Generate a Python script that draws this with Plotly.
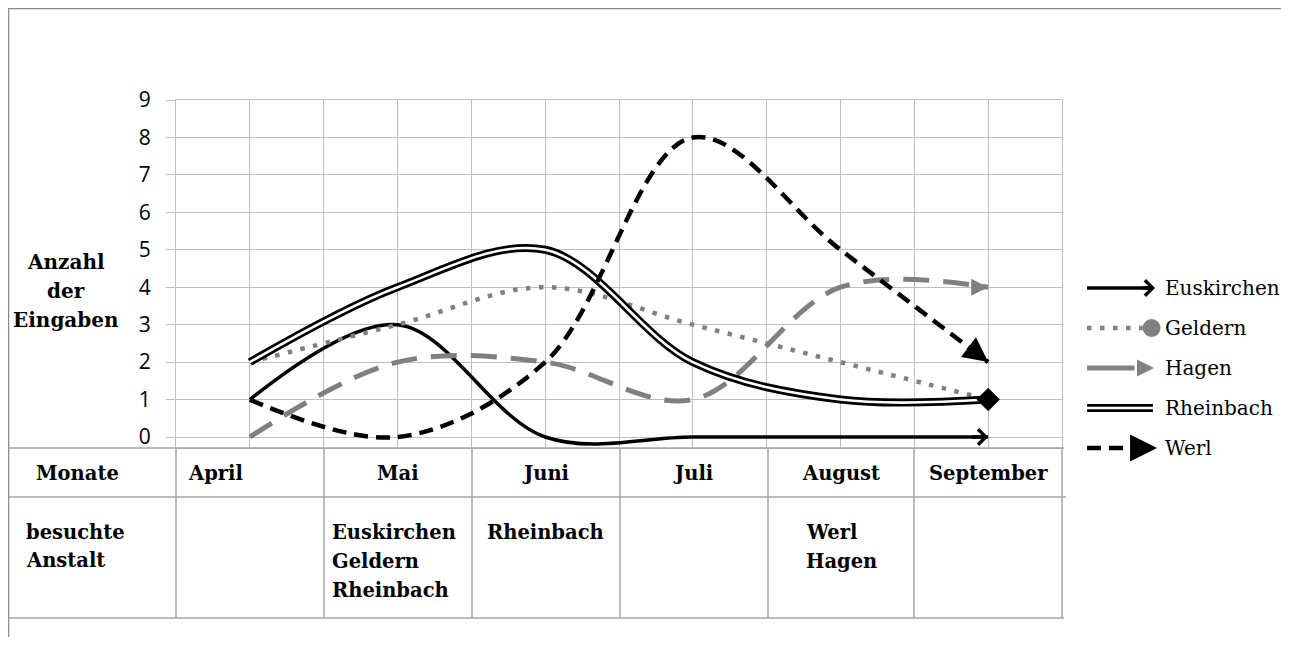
import plotly.graph_objects as go

# the page is drawn with an 8px body margin: size the figure to the viewport minus margins
W, H = 1273, 629
OX, OY = 8, 8

# ---------------- data ----------------
months = ["April", "Mai", "Juni", "Juli", "August", "September"]
visited = [[], ["Euskirchen", "Geldern", "Rheinbach"], ["Rheinbach"], [], ["Werl", "Hagen"], []]
euskirchen = [1, 3, 0, 0, 0, 0]
geldern = [2, 3, 4, 3, 2, 1]
hagen = [0, 2, 2, 1, 4, 4]
rheinbach = [2, 4, 5, 2, 1, 1]
werl = [1, 0, 2, 8, 5, 2]
y_ticks = list(range(0, 10))
series_names = ["Euskirchen", "Geldern", "Hagen", "Rheinbach", "Werl"]
row_label_months = "Monate"
row_label_visits = ["besuchte", "Anstalt"]
y_title = ["Anzahl", "der", "Eingaben"]

BLACK = "#000000"
GREY = "#808080"
GRID = "#bfbfbf"
TABLE = "#a6a6a6"
SERIF = "DejaVu Serif"


def fx(p):
    return (p - OX) / W


def fy(p):
    return 1 - (p - OY) / H


xs = list(range(len(months)))
fig = go.Figure()

# ---------------- series ----------------
fig.add_trace(go.Scatter(x=xs, y=euskirchen, mode="lines", line=dict(color=BLACK, width=3.5, shape="spline"),
                         showlegend=False, hoverinfo="skip"))
fig.add_trace(go.Scatter(x=xs, y=geldern, mode="lines",
                         line=dict(color=GREY, width=4.5, shape="spline", dash="4.5px,8.5px"),
                         showlegend=False, hoverinfo="skip"))
fig.add_trace(go.Scatter(x=[xs[-1]], y=[geldern[-1]], mode="markers",
                         marker=dict(symbol="circle", size=14, color=GREY), showlegend=False, cliponaxis=False))
fig.add_trace(go.Scatter(x=xs, y=hagen, mode="lines",
                         line=dict(color=GREY, width=5, shape="spline", dash="26px,14px"),
                         showlegend=False, hoverinfo="skip"))
fig.add_trace(go.Scatter(x=xs, y=rheinbach, mode="lines", line=dict(color=BLACK, width=8, shape="spline"),
                         showlegend=False, hoverinfo="skip"))
fig.add_trace(go.Scatter(x=xs, y=rheinbach, mode="lines", line=dict(color="white", width=2.6, shape="spline"),
                         showlegend=False, hoverinfo="skip"))
fig.add_trace(go.Scatter(x=[xs[-1]], y=[rheinbach[-1]], mode="markers",
                         marker=dict(symbol="diamond", size=18, color=BLACK), showlegend=False, cliponaxis=False))
fig.add_trace(go.Scatter(x=xs, y=werl, mode="lines",
                         line=dict(color=BLACK, width=4.5, shape="spline", dash="14px,8px"),
                         showlegend=False, hoverinfo="skip"))

annotations = []


def end_arrow(xv, yv, head, width, size, color=BLACK, xref="x", yref="y", frac=0.12):
    tipx, tipy = xv[-1], yv[-1]
    tx = tipx - frac * (xv[-1] - xv[-2])
    ty = tipy - frac * (yv[-1] - yv[-2])
    annotations.append(dict(x=tipx, y=tipy, ax=tx, ay=ty, xref=xref, yref=yref, axref=xref, ayref=yref,
                            text="", showarrow=True, arrowhead=head, arrowwidth=width, arrowsize=size,
                            arrowcolor=color))


end_arrow(xs, euskirchen, 4, 3.5, 0.85)
end_arrow(xs, hagen, 2, 5, 0.68, color=GREY, frac=0.1)
end_arrow(xs, werl, 2, 4.5, 1.1)

# ---------------- custom legend (separate hidden axes) ----------------
rows = list(range(len(series_names)))
fig.add_trace(go.Scatter(x=[0, 0.9], y=[rows[0]] * 2, xaxis="x2", yaxis="y2", mode="lines",
                         line=dict(color=BLACK, width=3.5), showlegend=False, hoverinfo="skip"))
end_arrow([0, 1.0], [rows[0]] * 2, 4, 3.5, 0.85, xref="x2", yref="y2", frac=0.2)
fig.add_trace(go.Scatter(x=[0, 0.82], y=[rows[1]] * 2, xaxis="x2", yaxis="y2", mode="lines",
                         line=dict(color=GREY, width=4.5, dash="4.5px,8.5px"), showlegend=False,
                         hoverinfo="skip"))
fig.add_trace(go.Scatter(x=[0.95], y=[rows[1]], xaxis="x2", yaxis="y2", mode="markers",
                         marker=dict(symbol="circle", size=18, color=GREY), showlegend=False, cliponaxis=False))
fig.add_trace(go.Scatter(x=[0, 0.7], y=[rows[2]] * 2, xaxis="x2", yaxis="y2", mode="lines",
                         line=dict(color=GREY, width=5), showlegend=False, hoverinfo="skip"))
annotations.append(dict(x=0.985, y=rows[2], ax=0.8, ay=rows[2], xref="x2", yref="y2", axref="x2", ayref="y2",
                        text="", showarrow=True, arrowhead=2, arrowwidth=5, arrowsize=0.68, arrowcolor=GREY))
fig.add_trace(go.Scatter(x=[0.7, 0.8], y=[rows[2]] * 2, xaxis="x2", yaxis="y2", mode="lines",
                         line=dict(color="white", width=7), showlegend=False, hoverinfo="skip"))
fig.add_trace(go.Scatter(x=[0, 0.97], y=[rows[3]] * 2, xaxis="x2", yaxis="y2", mode="lines",
                         line=dict(color=BLACK, width=8), showlegend=False, hoverinfo="skip"))
fig.add_trace(go.Scatter(x=[0, 0.97], y=[rows[3]] * 2, xaxis="x2", yaxis="y2", mode="lines",
                         line=dict(color="white", width=2.6), showlegend=False, hoverinfo="skip"))
fig.add_trace(go.Scatter(x=[1.02], y=[rows[3]], xaxis="x2", yaxis="y2", mode="markers",
                         marker=dict(symbol="diamond", size=17, color=BLACK), showlegend=False, cliponaxis=False))
fig.add_trace(go.Scatter(x=[0, 0.85], y=[rows[4]] * 2, xaxis="x2", yaxis="y2", mode="lines",
                         line=dict(color=BLACK, width=4.5, dash="14px,8px"), showlegend=False, hoverinfo="skip"))
end_arrow([0, 1.03], [rows[4]] * 2, 2, 4.5, 1.2, xref="x2", yref="y2", frac=0.15)

for i, name in enumerate(series_names):
    annotations.append(dict(x=fx(1163), y=i, xref="paper", yref="y2", text=name, showarrow=False,
                            xanchor="left", yanchor="middle",
                            font=dict(family=SERIF, size=20, color=BLACK)))

# ---------------- y axis title ----------------
for k, t in enumerate(y_title):
    annotations.append(dict(x=fx(66), y=fy(262 + 29 * k), xref="paper", yref="paper", text="<b>%s</b>" % t,
                            showarrow=False, xanchor="center", yanchor="middle",
                            font=dict(family=SERIF, size=20, color=BLACK)))

# ---------------- table below the chart ----------------
col_edges = [8, 176, 324, 472, 620, 768, 914, 1062]
row_edges = [448, 497, 618]
shapes = []
for ry in row_edges:
    shapes.append(dict(type="line", xref="paper", yref="paper", x0=fx(8), x1=fx(1064 if ry != 497 else 1066),
                       y0=fy(ry), y1=fy(ry), line=dict(color=TABLE, width=1.5)))
for cx in col_edges[1:]:
    shapes.append(dict(type="line", xref="paper", yref="paper", x0=fx(cx), x1=fx(cx),
                       y0=fy(448), y1=fy(618), line=dict(color=TABLE, width=1.5)))
# outer frame
shapes.append(dict(type="line", xref="paper", yref="paper", x0=fx(8.5), x1=fx(8.5), y0=fy(8), y1=0,
                   line=dict(color="#8c8c8c", width=1.5)))
shapes.append(dict(type="line", xref="paper", yref="paper", x0=fx(8), x1=1, y0=fy(8.5), y1=fy(8.5),
                   line=dict(color="#8c8c8c", width=1.5)))

TFONT = dict(family=SERIF, size=19.5, color=BLACK)
annotations.append(dict(x=fx(77), y=fy(473), xref="paper", yref="paper", text="<b>%s</b>" % row_label_months,
                        showarrow=False, xanchor="center", yanchor="middle", font=TFONT))
for k, t in enumerate(row_label_visits):
    annotations.append(dict(x=fx(24), y=fy(532 + 28.5 * k), xref="paper", yref="paper", text="<b>%s</b>" % t,
                            showarrow=False, xanchor="left", yanchor="middle", font=TFONT))
for i, m in enumerate(months):
    if i == 0:
        annotations.append(dict(x=fx(186), y=fy(473), xref="paper", yref="paper", text="<b>%s</b>" % m,
                                showarrow=False, xanchor="left", yanchor="middle", font=TFONT))
    else:
        annotations.append(dict(x=i, y=fy(473), xref="x", yref="paper", text="<b>%s</b>" % m,
                                showarrow=False, xanchor="center", yanchor="middle", font=TFONT))
visit_left = [183, 330, 485, 627, 804, 921]
for i, names in enumerate(visited):
    for k, t in enumerate(names):
        annotations.append(dict(x=fx(visit_left[i]), y=fy(532 + 29 * k), xref="paper", yref="paper",
                                text="<b>%s</b>" % t, showarrow=False, xanchor="left", yanchor="middle",
                                font=TFONT))

unit = (437 - 100) / 9.0
ymin = -11.0 / unit

fig.update_layout(
    width=W, height=H, margin=dict(l=0, r=0, t=0, b=0, autoexpand=False),
    paper_bgcolor="white", plot_bgcolor="white", showlegend=False,
    xaxis=dict(domain=[fx(176), fx(1062)], range=[-0.5, 5.5], automargin=False,
               tickvals=[v / 2.0 for v in range(-1, 12)], showticklabels=False, ticks="",
               showgrid=True, gridcolor=GRID, gridwidth=1.3, zeroline=False,
               showline=True, linecolor=GRID, linewidth=1.3, mirror=True, fixedrange=True),
    yaxis=dict(domain=[fy(100 + (9 - ymin) * unit), fy(100)], range=[ymin, 9], tickvals=y_ticks,
               automargin=False,
               ticks="outside", ticklen=9, tickcolor=GRID, tickwidth=1.3, ticklabelstandoff=11,
               tickfont=dict(family="Open Sans", size=21, color=BLACK),
               showgrid=True, gridcolor=GRID, gridwidth=1.3, zeroline=False,
               showline=True, linecolor=GRID, linewidth=1.3, mirror=True, fixedrange=True),
    xaxis2=dict(domain=[fx(1087), fx(1155)], range=[0, 1], visible=False, fixedrange=True, anchor="y2",
                automargin=False),
    yaxis2=dict(domain=[fy(288 + 4.5 * 40), fy(288 - 0.5 * 40)], range=[4.5, -0.5], visible=False,
                fixedrange=True, anchor="x2", automargin=False),
    annotations=annotations, shapes=shapes,
)

fig.write_html("out.html")
